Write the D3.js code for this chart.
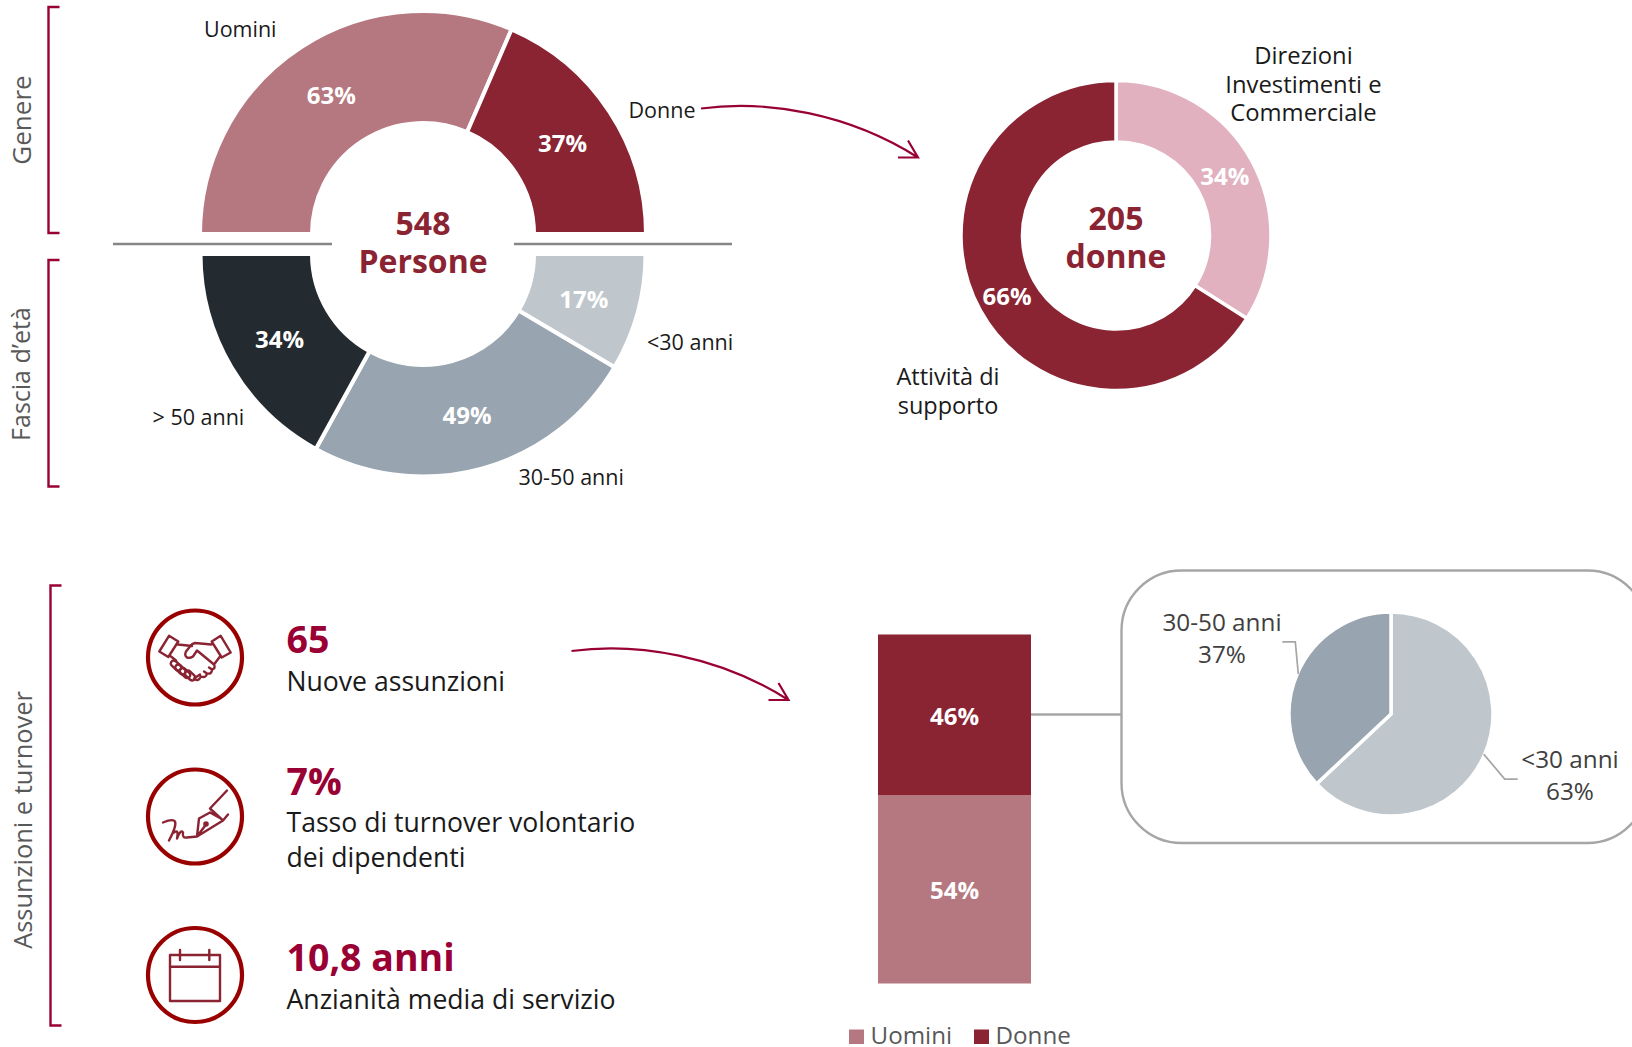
<!DOCTYPE html>
<html>
<head>
<meta charset="utf-8">
<script src="https://cdn.jsdelivr.net/npm/d3@7"></script>
<style>
  html, body { margin: 0; padding: 0; background: #fff; overflow: hidden; }
  svg { display: block; }
  text { font-family: "Open Sans", sans-serif; }
</style>
</head>
<body>
<script>
// data
var genderLabels = ["Uomini", "Donne"];
var genderValues = [63, 37];
var ageLabels = ["<30 anni", "30-50 anni", "> 50 anni"];
var ageValues = [17, 49, 34];
var womenRoles = [["Direzioni", "Investimenti e", "Commerciale"], ["Attività di", "supporto"]];
var womenValues = [34, 66];
var hiresLabels = ["Uomini", "Donne"];
var hiresValues = [54, 46];
var womenHiresLabels = ["<30 anni", "30-50 anni"];
var womenHiresValues = [63, 37];
var kpiValues = ["65", "7%", "10,8 anni"];
var kpiLabels = [["Nuove assunzioni"], ["Tasso di turnover volontario", "dei dipendenti"], ["Anzianità media di servizio"]];
var sectionLabels = ["Genere", "Fascia d’età", "Assunzioni e turnover"];

var red = "#8a2332", pink = "#b67880", lightPink = "#e1b1c0",
    dark = "#232b30", slate = "#98a4af", pale = "#bfc7cd",
    accent = "#990033", iconRing = "#990000", grey = "#595959";

var svg = d3.select("body").append("svg")
    .attr("width", 1632)
    .attr("height", 1047);

function pct(v) { return v + "%"; }

// draws a set of slices, white stroke makes the gaps between them
function donut(cx, cy, outer, inner, values, colors, start, end, gap) {
    var pie = d3.pie().sort(null).startAngle(start).endAngle(end);
    var arc = d3.arc().innerRadius(inner).outerRadius(outer);
    var g = svg.append("g").attr("transform", "translate(" + cx + "," + cy + ")");
    var arcs = pie(values);
    g.selectAll("path")
        .data(arcs)
        .enter().append("path")
        .attr("d", arc)
        .attr("fill", function(d, i) { return colors[i]; })
        .attr("stroke", "#fff")
        .attr("stroke-width", gap);
    if (inner > 0) {
        g.selectAll("text")
            .data(arcs)
            .enter().append("text")
            .attr("transform", function(d) { return "translate(" + arc.centroid(d) + ")"; })
            .attr("dy", "0.4em")
            .attr("text-anchor", "middle")
            .attr("fill", "#fff")
            .attr("font-size", 24)
            .attr("font-weight", 700)
            .text(function(d) { return pct(d.value); });
    }
    return arcs;
}

function label(x, y, str, size, color, weight, anchor) {
    return svg.append("text")
        .attr("x", x).attr("y", y)
        .attr("font-size", size)
        .attr("fill", color || "#1a1a1a")
        .attr("font-weight", weight || 400)
        .attr("text-anchor", anchor || "start")
        .text(str);
}

function bracket(x, y0, y1) {
    svg.append("path")
        .attr("d", "M" + (x + 11) + "," + y0 + "H" + x + "V" + y1 + "H" + (x + 11))
        .attr("fill", "none")
        .attr("stroke", accent)
        .attr("stroke-width", 2.4);
}

function sideTitle(x, y, str, size) {
    svg.append("text")
        .attr("transform", "translate(" + x + "," + y + ") rotate(-90)")
        .attr("text-anchor", "middle")
        .attr("font-size", size)
        .attr("fill", grey)
        .text(str);
}

function curvedArrow(x, y) {
    svg.append("path")
        .attr("d", "M" + x + "," + y + "c66,-9 148,5 217,49m-10,-17l10,17h-20")
        .attr("fill", "none")
        .attr("stroke", accent)
        .attr("stroke-width", 2.2);
}

// ---- top left, gender and age half donuts
donut(423, 234, 223, 111, genderValues, [pink, red], -Math.PI / 2, Math.PI / 2, 4);
donut(423, 254, 222.5, 111, ageValues, [pale, slate, dark], Math.PI / 2, Math.PI * 1.5, 4);

svg.append("g").selectAll("line")
    .data([[113, 332], [514, 732]])
    .enter().append("line")
    .attr("x1", function(d) { return d[0]; })
    .attr("x2", function(d) { return d[1]; })
    .attr("y1", 244).attr("y2", 244)
    .attr("stroke", "#868686")
    .attr("stroke-width", 2.4);

label(423, 235, "548", 32, red, 700, "middle");
label(423, 273, "Persone", 32, red, 700, "middle");

label(204, 37, genderLabels[0], 21.5);
label(628.5, 118, genderLabels[1], 21.5);
label(647, 350, ageLabels[0], 21.5);
label(518.5, 485, ageLabels[1], 21.5);
label(152.5, 425, ageLabels[2], 21.5);

bracket(48.5, 7, 233);
bracket(48.5, 260, 486.5);
sideTitle(30.5, 120, sectionLabels[0], 26);
sideTitle(29.5, 374, sectionLabels[1], 25);

curvedArrow(701, 108.5);

// ---- top right, women donut
donut(1116, 235.5, 155, 93.5, womenValues, [lightPink, red], 0, Math.PI * 2, 3.5);
label(1116, 230, "205", 32, red, 700, "middle");
label(1116, 268, "donne", 32, red, 700, "middle");

womenRoles[0].forEach(function(s, i) {
    label(1303.5, 64 + i * 28.7, s, 23.8, "#1a1a1a", 400, "middle");
});
womenRoles[1].forEach(function(s, i) {
    label(948, 385 + i * 29, s, 23.5, "#1a1a1a", 400, "middle");
});

// ---- bottom left, kpi list with icons
var ringY = [657.5, 816.5, 975];
var valueBase = [652.5, 794.5, 970.5];
var textBase = [691, 832, 1009];

bracket(50.5, 585.5, 1025.5);
sideTitle(32, 820, sectionLabels[2], 25.4);

ringY.forEach(function(y, i) {
    svg.append("circle")
        .attr("cx", 195).attr("cy", y).attr("r", 47)
        .attr("fill", "none")
        .attr("stroke", iconRing)
        .attr("stroke-width", 4.2);
    label(286.5, valueBase[i], kpiValues[i], 37.5, accent, 700);
    kpiLabels[i].forEach(function(s, j) {
        label(286.5, textBase[i] + j * 35, s, 26.6);
    });
});

function icon(y) {
    return svg.append("g")
        .attr("transform", "translate(195," + y + ")")
        .attr("fill", "none")
        .attr("stroke", red)
        .attr("stroke-width", 2.4)
        .attr("stroke-linejoin", "round")
        .attr("stroke-linecap", "round");
}

// handshake
var shake = icon(ringY[0]);
shake.append("path").attr("d",
    "M-26,-21.7L-16.7,-16L-26.7,-0.5L-35.7,-6Z" +
    "M25.7,-21.7L35.7,-5L26.7,0L16.7,-16Z" +
    "M-17,-13L-3,-11.5M16.5,-13L0,-14.5Q-3,-14 -5,-11L-9,-6Q-11,-2 -8,0Q-5,1 -2,-1L2,-7L19,7" +
    "M-24,-1L-19,3M19,7Q21,11 17,12L14,10M17,12Q17,17 12,16L9,14M12,16Q11,21 6,19M6,19Q3,25 -1,21M-1,21L5,17" +
    "M19,7L25,-1");
[[-19, 8], [-14.5, 12], [-10, 15.5], [-5, 18]].forEach(function(p) {
    shake.append("rect")
        .attr("x", -6).attr("y", -3).attr("width", 12).attr("height", 6).attr("rx", 3)
        .attr("transform", "translate(" + p + ") rotate(42)");
});

// pen and signature
var pen = icon(ringY[1]);
pen.append("path").attr("d",
    "M32,-26L15,-8M15,-8L28,4M33,-2L28,4" +
    "M4,2L15,-4M4,2L2,20L28,4M15,-4L24,1M2,20L11,8" +
    "M-32,6Q-22,2 -20,5Q-18,9 -26,24M-21,16Q-16,12 -18,22Q-14,12 -12,16Q-13,22 -8,21L2,20");
pen.append("circle").attr("cx", 11).attr("cy", 7.5).attr("r", 1.6).attr("fill", red);

// calendar
var cal = icon(ringY[2]);
cal.append("rect").attr("x", -25).attr("y", -20).attr("width", 50).attr("height", 46);
cal.append("path").attr("d", "M-25,-8.3H25M-15,-25V-15M14.3,-25V-15");

curvedArrow(571.5, 651);

// ---- stacked bar
var barX = d3.scaleBand().domain(["tot"]).range([878, 1031]);
var barY = d3.scaleLinear().domain([0, 100]).range([983.5, 634.5]);
var stack = d3.stack().keys(hiresLabels);
var row = {};
hiresLabels.forEach(function(k, i) { row[k] = hiresValues[i]; });
var layers = stack([row]);
var hireColors = [pink, red];

svg.append("g").selectAll("rect")
    .data(layers)
    .enter().append("rect")
    .attr("x", barX("tot"))
    .attr("width", barX.bandwidth())
    .attr("y", function(d) { return barY(d[0][1]); })
    .attr("height", function(d) { return barY(d[0][0]) - barY(d[0][1]); })
    .attr("fill", function(d, i) { return hireColors[i]; });

svg.append("g").selectAll("text")
    .data(layers)
    .enter().append("text")
    .attr("x", barX("tot") + barX.bandwidth() / 2)
    .attr("y", function(d) { return barY((d[0][0] + d[0][1]) / 2); })
    .attr("dy", "0.42em")
    .attr("text-anchor", "middle")
    .attr("fill", "#fff")
    .attr("font-size", 24)
    .attr("font-weight", 700)
    .text(function(d, i) { return pct(hiresValues[i]); });

// legend under the bar
var legendX = [849, 974];
hiresLabels.forEach(function(s, i) {
    svg.append("rect")
        .attr("x", legendX[i]).attr("y", 1029.5)
        .attr("width", 15).attr("height", 14.5)
        .attr("fill", hireColors[i]);
    label(legendX[i] + 21.5, 1044, s, 24.2, grey);
});

// ---- callout with the pie
svg.append("line")
    .attr("x1", 1031).attr("x2", 1121)
    .attr("y1", 714.5).attr("y2", 714.5)
    .attr("stroke", "#a6a6a6")
    .attr("stroke-width", 2.4);

svg.append("rect")
    .attr("x", 1121.5).attr("y", 570.5)
    .attr("width", 526).attr("height", 272.5)
    .attr("rx", 60).attr("ry", 60)
    .attr("fill", "#fff")
    .attr("stroke", "#a6a6a6")
    .attr("stroke-width", 2.4);

var pieR = 102;
var pieArcs = donut(1391, 714, pieR, 0, womenHiresValues, [pale, slate], 0, Math.PI * 2, 3.5);

// leader lines start on the rim of each slice
function rim(d) {
    var a = (d.startAngle + d.endAngle) / 2;
    return [1391 + (pieR - 1) * Math.sin(a), 714 - (pieR - 1) * Math.cos(a)];
}
var leader = d3.line();
var r0 = rim(pieArcs[0]), r1 = rim(pieArcs[1]);
svg.append("path")
    .attr("d", leader([r0, [r0[0] + 21, r0[1] + 25], [r0[0] + 34, r0[1] + 25]]))
    .attr("fill", "none").attr("stroke", "#a6a6a6").attr("stroke-width", 1.7);
svg.append("path")
    .attr("d", leader([r1, [r1[0] - 3, r1[1] - 32], [r1[0] - 16, r1[1] - 32]]))
    .attr("fill", "none").attr("stroke", "#a6a6a6").attr("stroke-width", 1.7);

label(1570, 767.5, womenHiresLabels[0], 24.3, "#404040", 400, "middle");
label(1570, 799.5, pct(womenHiresValues[0]), 24.3, "#404040", 400, "middle");
label(1222, 630.5, womenHiresLabels[1], 24.3, "#404040", 400, "middle");
label(1222, 662.5, pct(womenHiresValues[1]), 24.3, "#404040", 400, "middle");
</script>
</body>
</html>
